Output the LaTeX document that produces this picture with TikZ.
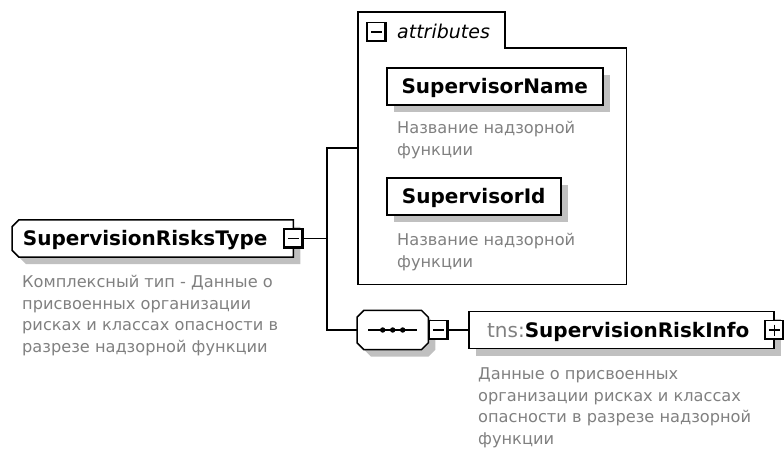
\documentclass[tikz,border=0pt]{standalone}
\usepackage{fontspec}
\setmainfont{DejaVu Sans}
\usetikzlibrary{calc,shadows,backgrounds}
\definecolor{desc}{RGB}{128,128,128}
\definecolor{shade}{RGB}{192,192,192}
\newcommand\nmfont{\fontsize{20}{23}\selectfont\bfseries}
\newcommand\dsfont{\fontsize{16.2}{21.5}\selectfont}
\begin{document}
\begin{tikzpicture}[x=1pt,y=-1pt,
  shadowed/.style={drop shadow={shadow xshift=7pt,shadow yshift=-7pt,fill=shade,opacity=1,draw=none}},
  outline/.style={draw=black,line width=1.5pt,fill=white},
  namebox/.style={outline,shadowed,rectangle,minimum height=37pt,inner sep=0pt,text height=14.6pt,text depth=0pt,font=\nmfont},
  holder/.style={rectangle,draw=none,minimum height=37pt,inner sep=0pt,text height=14.6pt,text depth=0pt,font=\nmfont},
  desctext/.style={text=desc,font=\dsfont,align=left,anchor=north west,inner sep=0pt},
  conn/.style={draw=black,line width=1.5pt},
  btnbase/.style={rectangle,draw=black,line width=1.2pt,fill=white,minimum size=19pt,inner sep=0pt},
  minusbtn/.style={btnbase,path picture={
     \draw[line width=4pt] (path picture bounding box.north east) -- (path picture bounding box.south east) -- (path picture bounding box.south west);
     \draw[line width=1.4pt] ($(path picture bounding box.west)+(4,0)$) -- ($(path picture bounding box.east)+(-4,0)$);}},
  plusbtn/.style={btnbase,path picture={
     \draw[line width=4pt] (path picture bounding box.north east) -- (path picture bounding box.south east) -- (path picture bounding box.south west);
     \draw[line width=1.4pt] ($(path picture bounding box.west)+(4,0)$) -- ($(path picture bounding box.east)+(-4,0)$);
     \draw[line width=1.4pt] ($(path picture bounding box.north)+(0,4)$) -- ($(path picture bounding box.south)+(0,-4)$);}}
]
\useasboundingbox (0,0) rectangle (784,450);

% attributes container
\node[rectangle,draw=none,minimum width=268pt,minimum height=272pt,inner sep=0pt,anchor=north west] (attrs) at (358,12) {};
\draw[line width=1.2pt] (attrs.north west) -- ($(attrs.north west)+(147,0)$) -- ($(attrs.north west)+(147,36)$) -- ($(attrs.north east)+(0,36)$) -- (attrs.south east) -- (attrs.south west) -- cycle;
\node[minusbtn] (attrbtn) at ($(attrs.north west)+(18.5,20)$) {};
\node[anchor=base west,font=\fontsize{19}{21}\selectfont\itshape,inner sep=0pt] (attrlabel) at (397,38) {attributes};

\node[namebox,minimum width=216pt,anchor=north west] (sname) at (386,67) {SupervisorName};
\node[desctext] (snamedesc) at (397,121) {Название надзорной\\функции};
\node[namebox,minimum width=174pt,anchor=north west] (sid) at (386,177) {SupervisorId};
\node[desctext] (siddesc) at (397,233) {Название надзорной\\функции};

% root
\node[holder,minimum width=281pt,anchor=west] (root) at (12,238.5) {SupervisionRisksType\kern15pt};
\begin{scope}[on background layer]
\filldraw[outline,shadowed] ($(root.north west)+(7,0)$) -- (root.north east) -- (root.south east) -- ($(root.south west)+(7,0)$) -- ($(root.south west)+(0,-7)$) -- ($(root.north west)+(0,7)$) -- cycle;
\end{scope}
\node[minusbtn] (rootbtn) at (root.east) {};
\node[desctext] (rootdesc) at (22,275) {Комплексный тип - Данные о\\присвоенных организации\\рисках и классах опасности в\\разрезе надзорной функции};

% sequence
\node[rectangle,draw=none,minimum width=71pt,minimum height=39pt,inner sep=0pt,anchor=west] (seq) at (357,330) {};
\begin{scope}[on background layer]
\filldraw[outline,shadowed] ($(seq.north west)+(7,0)$) -- ($(seq.north east)+(-7,0)$) -- ($(seq.north east)+(0,7)$) -- ($(seq.south east)+(0,-7)$) -- ($(seq.south east)+(-7,0)$) -- ($(seq.south west)+(7,0)$) -- ($(seq.south west)+(0,-7)$) -- ($(seq.north west)+(0,7)$) -- cycle;
\end{scope}
\draw[line width=1.4pt] ($(seq.west)+(11,0)$) -- ($(seq.east)+(-11,0)$);
\foreach \dx in {-10,0,10} \fill ($(seq.center)+(\dx,0)$) circle (2.7pt);
\node[minusbtn,anchor=west] (seqbtn) at (seq.east) {};

% element
\node[namebox,minimum width=305pt,anchor=west] (elem) at (468,330) {{\mdseries\color{desc}tns:}SupervisionRiskInfo\kern6pt};
\node[plusbtn] (elembtn) at (elem.east) {};
\node[desctext] (elemdesc) at (478,367.5) {Данные о присвоенных\\организации рисках и классах\\опасности в разрезе надзорной\\функции};

% connectors
\coordinate (jn) at (327,238.5);
\draw[conn] (rootbtn.east) -- (jn);
\draw[conn] (attrs.west) -| (jn) |- (seq.west);
\draw[conn] (seqbtn.east) -- (elem.west);
\end{tikzpicture}
\end{document}
